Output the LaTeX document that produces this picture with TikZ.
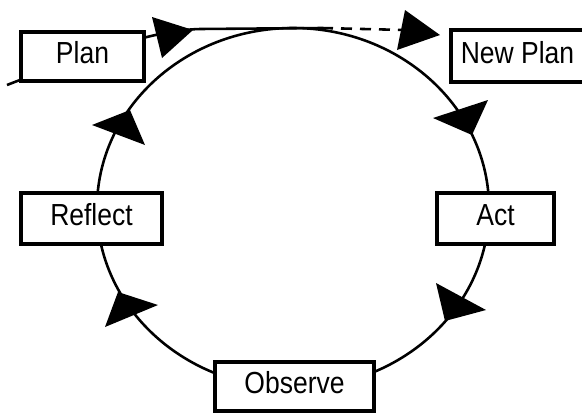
\documentclass[tikz,border=0pt]{standalone}
\usepackage{fontspec}
\newfontfamily\boxfont[FakeStretch=0.87]{Liberation Sans}
\usetikzlibrary{calc}

\tikzset{
	stage/.style={draw=black, line width=2.8pt, fill=white, inner sep=0pt,
		font=\boxfont\fontsize{26}{30}\selectfont, text height=18.6pt, text depth=6pt},
	loopline/.style={line width=2.2pt, black},
}

\begin{document}
\begin{tikzpicture}[x=0.03cm, y=-0.03cm]
	
	\useasboundingbox (0,0) rectangle (582,412);
	
	% Draw the cycle.
	\coordinate (centre) at (293,208);
	\draw[loopline] (centre) ellipse [x radius=5.88cm, y radius=5.4cm];
	
	% Draw the line into the cycle and the dashed way out.
	\coordinate (tail) at (7,85);
	\coordinate (tip) at (200,29);
	\coordinate (touch) at (322,28);
	\coordinate (head) at (405,30);
	\draw[loopline] (tail) .. controls (110,45) and (160,30) .. (tip) -- (touch);
	\draw[loopline, dash pattern=on 0.33cm off 0.24cm] (touch) -- (head);
	
	% Draw stages.
	\node[stage, minimum width=3.69cm, minimum height=1.47cm] (plan) at (82.5,56.5) {Plan};
	\node[stage, minimum width=3.99cm, minimum height=1.56cm] (newplan) at (517.5,56) {New Plan};
	\node[stage, minimum width=4.23cm, minimum height=1.53cm] (reflect) at (91.5,218.5) {Reflect};
	\node[stage, minimum width=3.51cm, minimum height=1.53cm] (act) at (495.5,218.5) {Act};
	\node[stage, minimum width=4.77cm, minimum height=1.47cm] (observe) at (294.5,386.5) {Observe};
	
	% Draw arrow heads.
	\foreach \ax/\ay/\bx/\by/\cx/\cy in {152/17/193/30/162/58, 405/10/440/35/397/50,
		433/118/488/100/472/135, 436/283/486/310/445/321,
		118/292/158/305/105/327, 92/125/130/110/145/145} {
		\fill[black] (\ax,\ay) -- (\bx,\by) -- (\cx,\cy) -- cycle;
	}
	
\end{tikzpicture}
\end{document}
